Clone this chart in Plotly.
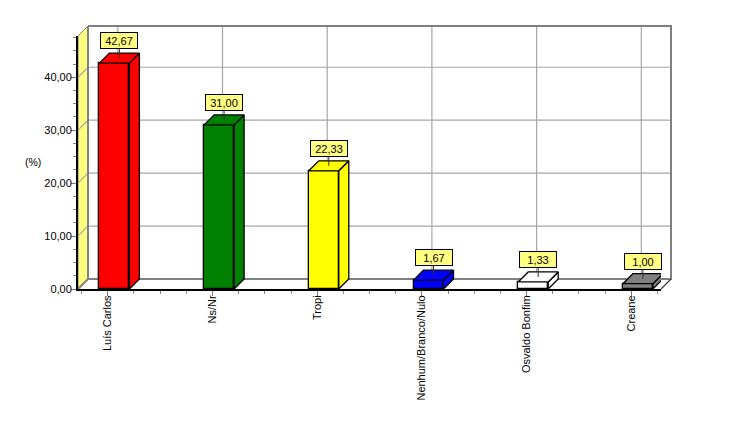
import plotly.graph_objects as go

categories = ["Luís Carlos", "Ns/Nr", "Tropi", "Nenhum/Branco/Nulo", "Osvaldo Bonfim", "Creane"]
values = [42.67, 31.00, 22.33, 1.67, 1.33, 1.00]
value_labels = ["42,67", "31,00", "22,33", "1,67", "1,33", "1,00"]
bar_colors = ["#FF0000", "#008000", "#FFFF00", "#0000FF", "#FFFFFF", "#808080"]
y_ticks = [0, 10, 20, 30, 40]
grid_values = [10, 20, 30, 40]

W, H = 734, 426
L, R, T, B = 78.0, 661.0, 36.0, 289.3
PX_X = 104.7      # pixels per category
PX_Y = 5.3        # pixels per percent
X0_PX = 114.4     # first bar centre
DEPTH = 10.0
TICK_SHIFT = -6.6 / PX_X
BAR_W = 30.0 / PX_X
xr = [(L - X0_PX) / PX_X, (R - X0_PX) / PX_X]
yr = [0, (B - T) / PX_Y]
dx, dy = DEPTH / PX_X, DEPTH / PX_Y

fig = go.Figure()
positions = list(range(len(categories)))

fig.add_trace(go.Bar(x=positions, y=values, width=BAR_W,
                     marker=dict(color=bar_colors, line=dict(color="black", width=1.3)),
                     hoverinfo="skip", showlegend=False))

# 3D faces of every bar, derived from the values
for p, v, c in zip(positions, values, bar_colors):
    xl, xh = p - BAR_W / 2, p + BAR_W / 2
    fig.add_trace(go.Scatter(x=[xh, xh + dx, xh + dx, xh, xh], y=[0, dy, v + dy, v, 0],
                             mode="lines", fill="toself", fillcolor=c,
                             line=dict(color="black", width=1.3), cliponaxis=False,
                             hoverinfo="skip", showlegend=False))
    fig.add_trace(go.Scatter(x=[xl, xl + dx, xh + dx, xh, xl], y=[v, v + dy, v + dy, v, v],
                             mode="lines", fill="toself", fillcolor=c,
                             line=dict(color="black", width=1.3), cliponaxis=False,
                             hoverinfo="skip", showlegend=False))

shapes = []
def to_paper(a, b):
    return (a - xr[0]) / (xr[1] - xr[0]), (b - yr[0]) / (yr[1] - yr[0])

def add(points, color="#A6A6A6", width=1.2, fill=None):
    pts = [to_paper(a, b) for a, b in points]
    d = "M " + " L ".join(f"{a:.5f},{b:.5f}" for a, b in pts) + (" Z" if fill else "")
    shapes.append(dict(type="path", path=d, xref="paper", yref="paper", layer="below",
                       fillcolor=fill or "rgba(0,0,0,0)", line=dict(color=color, width=width)))

x_a, x_b = xr
y_top = yr[1]
# left wall
add([(x_a, 0), (x_a + dx, dy), (x_a + dx, y_top + dy), (x_a, y_top)], color="#808080", width=1, fill="#FFFF80")
# grid
for g in grid_values:
    add([(x_a, g), (x_a + dx, g + dy), (x_b + dx, g + dy)])
for p in positions:
    add([(p + TICK_SHIFT + dx, dy), (p + TICK_SHIFT + dx, y_top + dy)])
# back outline and floor
add([(x_a + dx, y_top + dy), (x_b + dx, y_top + dy), (x_b + dx, dy), (x_a + dx, dy), (x_a, 0)], color="#808080", width=2)
add([(x_a + dx, y_top + dy), (x_a + dx, dy)], color="#808080", width=2)
add([(x_b, 0), (x_b + dx, dy)], color="#404040", width=1.2)

annotations = []
for p, v, t in zip(positions, values, value_labels):
    annotations.append(dict(x=p + dx / 2, y=v + dy / 2, xref="x", yref="y", text=t,
                            showarrow=True, arrowhead=0, arrowwidth=1, arrowcolor="#333333",
                            ax=0, ay=-17.5, bgcolor="#FFFF80", bordercolor="black", borderwidth=1,
                            width=34, height=13, borderpad=1,
                            font=dict(family="Liberation Sans", size=11, color="black")))
annotations.append(dict(x=(33 - L) / (R - L), y=(B - 162) / (B - T), xref="paper", yref="paper", text="(%)",
                        xanchor="center", yanchor="middle", showarrow=False,
                        font=dict(family="Liberation Sans", size=10.5, color="black")))

fig.update_layout(
    width=W, height=H, autosize=False, bargap=0, showlegend=False,
    separators=",.",
    paper_bgcolor="white", plot_bgcolor="rgba(0,0,0,0)",
    margin=dict(l=L, r=W - R, t=T, b=H - B, pad=0),
    font=dict(family="Liberation Sans", size=11, color="black"),
    shapes=shapes, annotations=annotations,
    xaxis=dict(range=xr, showgrid=False, zeroline=False, showline=True, linecolor="black", linewidth=2,
               tickmode="array", tickvals=[p + TICK_SHIFT for p in positions], ticktext=categories,
               tickangle=-90, ticks="outside", ticklen=5, tickcolor="#777777", tickwidth=1,
               ticklabelstandoff=-5,
               minor=dict(tick0=TICK_SHIFT, dtick=0.25, ticks="outside", ticklen=3, tickcolor="#888888", tickwidth=1),
               tickfont=dict(size=11)),
    yaxis=dict(range=yr, showgrid=False, zeroline=False, showline=True, linecolor="black", linewidth=2,
               tickmode="array", tickvals=y_ticks, tickformat=".2f", ticks="outside", ticklen=5,
               tickcolor="#777777", tickwidth=1, ticklabelstandoff=-3,
               minor=dict(dtick=2.5, ticks="outside", ticklen=3, tickcolor="#888888", tickwidth=1),
               tickfont=dict(size=11)),
)
fig.write_html("out.html", config=dict(displayModeBar=False), post_script="document.body.style.margin='0';")
